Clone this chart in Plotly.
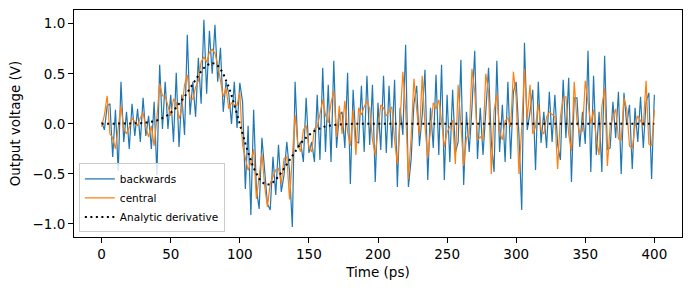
import plotly.graph_objects as go

# Time axis (ps), 2 ps sampling
time_ps = list(range(0, 401, 2))

backwards = [
    0.02, -0.06, 0.18, 0.20, -0.33, 0.14, -0.47, 0.42, -0.18, 0.12,
    -0.25, 0.20, -0.12, 0.15, -0.18, 0.26, -0.12, 0.08, -0.25, 0.22,
    -0.51, 0.59, -0.05, 0.42, -0.05, 0.29, -0.18, 0.51, -0.23, 0.29,
    -0.11, 0.89, 0.09, 0.42, 0.07, 0.66, 0.20, 1.04, 0.30, 0.93,
    0.50, 0.99, 0.42, 0.76, 0.12, 0.42, 0.30, 0.00, 0.42, -0.04,
    0.41, 0.22, -0.65, -0.02, -0.91, 0.14, -0.65, -0.85, -0.14, -0.45,
    -0.80, -0.86, -0.33, -0.71, -0.21, -0.68, -0.51, -0.18, -0.48, -1.03,
    0.42, -0.24, -0.18, -0.38, 0.26, -0.29, -0.18, -0.38, 0.29, -0.36,
    0.56, -0.28, 0.39, -0.38, 0.63, -0.24, 0.09, 0.12, -0.24, 0.51,
    -0.60, 0.34, -0.18, -0.19, 0.38, -0.28, 0.48, -0.21, 0.39, -0.58,
    0.21, -0.26, 0.48, -0.29, 0.38, -0.24, 0.44, -0.63, 0.16, -0.11,
    0.79, -0.63, -0.35, 0.20, 0.38, -0.22, 0.09, 0.54, -0.56, 0.16,
    -0.24, 0.49, -0.31, 0.59, -0.56, 0.29, -0.38, 0.34, -0.29, -0.18,
    0.64, -0.61, 0.12, -0.28, 0.16, 0.73, -0.35, 0.16, -0.31, 0.12,
    0.56, -0.18, -0.48, 0.63, -0.28, 0.19, -0.38, 0.42, -0.35, 0.32,
    0.42, -0.11, -0.86, 0.81, -0.06, 0.12, 0.34, -0.46, 0.42, -0.19,
    0.12, -0.24, 0.32, -0.18, 0.29, -0.21, -0.36, 0.44, -0.14, 0.46,
    -0.58, 0.26, 0.26, -0.23, 0.12, -0.20, 0.73, -0.48, 0.48, -0.31,
    0.12, -0.48, 0.68, -0.26, -0.24, 0.22, -0.14, 0.32, -0.50, 0.31,
    -0.01, 0.19, -0.45, 0.16, -0.18, 0.27, -0.24, 0.22, 0.31, -0.55,
    0.29,
]

central = [
    -0.03, 0.09, 0.28, -0.10, -0.14, -0.25, -0.04, 0.18, -0.05, -0.10,
    -0.04, 0.06, 0.02, -0.02, 0.06, 0.11, -0.03, -0.13, -0.02, -0.22,
    0.06, 0.40, 0.28, 0.28, 0.18, 0.08, 0.25, 0.21, 0.05, 0.14,
    0.39, 0.49, 0.255, 0.245, 0.365, 0.43, 0.62, 0.67, 0.615, 0.715,
    0.745, 0.705, 0.59, 0.44, 0.27, 0.36, 0.15, 0.21, 0.19, 0.185,
    0.315, -0.215, -0.335, -0.465, -0.385, -0.255, -0.75, -0.495, -0.295, -0.625,
    -0.83, -0.595, -0.52, -0.46, -0.445, -0.595, -0.345, -0.33, -0.755, -0.305,
    0.09, -0.21, -0.28, -0.06, -0.015, -0.235, -0.28, -0.045, -0.035, 0.10,
    0.24, 0.09, 0.01, 0.21, 0.33, -0.13, 0.18, -0.10, 0.23, -0.08,
    -0.22, 0.14, -0.31, 0.16, 0.09, 0.17, 0.23, 0.15, -0.16, -0.31,
    -0.04, 0.19, 0.16, 0.08, 0.12, 0.17, -0.16, -0.40, 0.04, 0.52,
    0.14, -0.55, -0.13, 0.45, 0.14, -0.11, 0.48, -0.02, -0.34, -0.07,
    0.21, 0.15, 0.24, 0.03, -0.23, -0.08, -0.03, 0.04, -0.40, 0.39,
    0.03, -0.42, -0.14, -0.10, 0.55, 0.32, -0.16, -0.13, -0.16, 0.50,
    0.32, -0.50, 0.13, 0.30, -0.08, -0.16, 0.03, 0.06, -0.03, 0.52,
    0.26, -0.50, -0.04, 0.55, 0.05, 0.39, -0.10, -0.03, 0.20, -0.06,
    -0.10, 0.07, 0.12, 0.09, 0.07, -0.45, 0.07, 0.26, 0.27, -0.10,
    -0.27, 0.42, 0.03, -0.09, -0.07, 0.43, 0.21, 0.0, 0.14, -0.16,
    -0.31, 0.17, 0.36, -0.42, -0.02, 0.07, 0.15, -0.15, -0.16, 0.26,
    0.15, -0.22, -0.25, -0.02, 0.08, 0.03, -0.02, 0.43, -0.20, -0.22,
    0.14,
]

analytic = [
    0.0, 0.0, 0.0, 0.0, 0.0, 0.0, 0.0, 0.0, 0.0, 0.0,
    0.0, 0.0, 0.0, 0.004, 0.006, 0.008, 0.011, 0.014, 0.019, 0.025,
    0.033, 0.043, 0.056, 0.071, 0.089, 0.110, 0.135, 0.163, 0.196, 0.232,
    0.271, 0.313, 0.356, 0.401, 0.445, 0.487, 0.525, 0.558, 0.584, 0.601,
    0.607, 0.600, 0.581, 0.548, 0.501, 0.441, 0.369, 0.287, 0.196, 0.100,
    0.0, -0.100, -0.196, -0.287, -0.369, -0.441, -0.501, -0.548, -0.581, -0.600,
    -0.607, -0.601, -0.584, -0.558, -0.525, -0.487, -0.445, -0.401, -0.356, -0.313,
    -0.271, -0.232, -0.196, -0.163, -0.135, -0.110, -0.089, -0.071, -0.056, -0.043,
    -0.033, -0.025, -0.019, -0.014, -0.011, -0.008, -0.006, -0.004, 0.0, 0.0,
    0.0, 0.0, 0.0, 0.0, 0.0, 0.0, 0.0, 0.0, 0.0, 0.0,
    0.0, 0.0, 0.0, 0.0, 0.0, 0.0, 0.0, 0.0, 0.0, 0.0,
    0.0, 0.0, 0.0, 0.0, 0.0, 0.0, 0.0, 0.0, 0.0, 0.0,
    0.0, 0.0, 0.0, 0.0, 0.0, 0.0, 0.0, 0.0, 0.0, 0.0,
    0.0, 0.0, 0.0, 0.0, 0.0, 0.0, 0.0, 0.0, 0.0, 0.0,
    0.0, 0.0, 0.0, 0.0, 0.0, 0.0, 0.0, 0.0, 0.0, 0.0,
    0.0, 0.0, 0.0, 0.0, 0.0, 0.0, 0.0, 0.0, 0.0, 0.0,
    0.0, 0.0, 0.0, 0.0, 0.0, 0.0, 0.0, 0.0, 0.0, 0.0,
    0.0, 0.0, 0.0, 0.0, 0.0, 0.0, 0.0, 0.0, 0.0, 0.0,
    0.0, 0.0, 0.0, 0.0, 0.0, 0.0, 0.0, 0.0, 0.0, 0.0,
    0.0, 0.0, 0.0, 0.0, 0.0, 0.0, 0.0, 0.0, 0.0, 0.0,
    0.0,
]

x_ticks = [0, 50, 100, 150, 200, 250, 300, 350, 400]
y_ticks = [-1.0, -0.5, 0.0, 0.5, 1.0]

FONT = "DejaVu Sans"

fig = go.Figure()
fig.add_trace(go.Scatter(x=time_ps, y=backwards, mode="lines", name="backwards",
                         line=dict(color="#1f77b4", width=1.2)))
fig.add_trace(go.Scatter(x=time_ps, y=central, mode="lines", name="central",
                         line=dict(color="#ff7f0e", width=1.2)))
fig.add_trace(go.Scatter(x=time_ps, y=analytic, mode="lines", name="Analytic derivative",
                         line=dict(color="black", width=2, dash="2px,3.5px")))

axis_common = dict(
    showline=True, linecolor="black", linewidth=1, mirror=True,
    ticks="outside", ticklen=5, tickwidth=1, tickcolor="black",
    showgrid=False, zeroline=False,
    tickfont=dict(family=FONT, size=13.5, color="black"),
)

fig.update_layout(
    width=690, height=290,
    margin=dict(l=74, r=8, t=10, b=53),
    paper_bgcolor="white", plot_bgcolor="white",
    font=dict(family=FONT, size=13.5, color="black"),
    showlegend=True,
    legend=dict(
        x=0.008, y=0.02, xanchor="left", yanchor="bottom",
        bgcolor="rgba(255,255,255,0.8)", bordercolor="#cccccc", borderwidth=1,
        font=dict(family=FONT, size=10.5, color="black"),
        tracegroupgap=0, itemwidth=30,
    ),
    xaxis=dict(range=[-20, 420], tickvals=x_ticks,
               title=dict(text="Time (ps)", font=dict(family=FONT, size=13.5), standoff=6),
               **axis_common),
    yaxis=dict(range=[-1.13, 1.137], tickvals=y_ticks, tickformat=".1f",
               title=dict(text="Output voltage (V)", font=dict(family=FONT, size=13.5), standoff=8),
               **axis_common),
)

fig.write_html("out.html")
